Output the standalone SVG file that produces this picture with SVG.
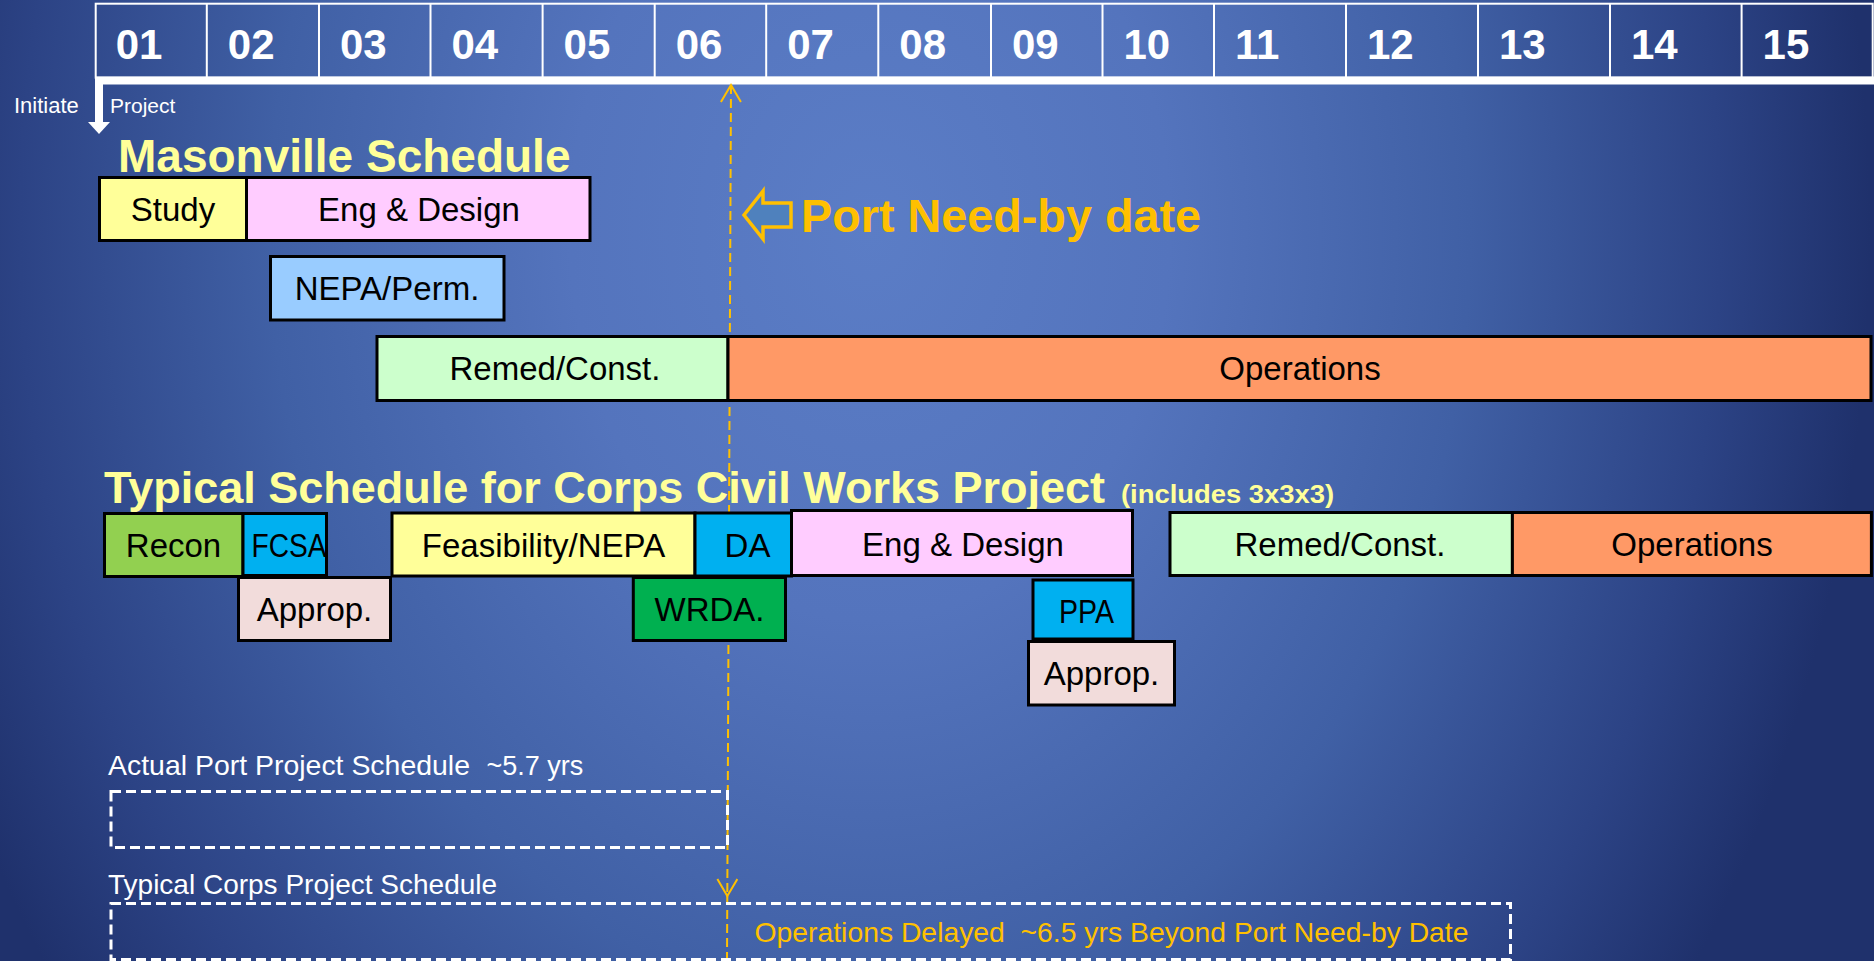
<svg xmlns="http://www.w3.org/2000/svg" width="1874" height="961" viewBox="0 0 1874 961">
<defs>
<radialGradient id="bg" gradientUnits="userSpaceOnUse" cx="870" cy="230" r="1000" gradientTransform="translate(870 230) scale(1 1.3) translate(-870 -230)">
<stop offset="0" stop-color="#5B7DC6"/>
<stop offset="0.3" stop-color="#5474BD"/>
<stop offset="0.6" stop-color="#4060A5"/>
<stop offset="0.85" stop-color="#2C4385"/>
<stop offset="1" stop-color="#1F316C"/>
</radialGradient>
<marker id="chev" viewBox="0 0 22 22" refX="20" refY="11" markerWidth="22" markerHeight="22" markerUnits="userSpaceOnUse" orient="auto-start-reverse">
<path d="M3,1 L20,11 L3,21" fill="none" stroke="#FFC000" stroke-width="2"/>
</marker>
</defs>
<style>
text{font-family:"Liberation Sans",Arial,sans-serif}
.box{stroke:#000;stroke-width:3}
.lbl{font-size:33px;fill:#000;text-anchor:middle}
.hdr{font-weight:bold;font-size:42px;fill:#fff}
.cell{fill:none;stroke:#fff;stroke-width:2}
.title{font-weight:bold;fill:#FFFF99}
.note{font-size:28px;fill:#fff}
.dash{fill:none;stroke:#fff;stroke-width:3;stroke-dasharray:10 5}
.gold{fill:#FFC000}
</style>
<rect x="0" y="0" width="1874" height="961" fill="url(#bg)"/>

<g id="timeline-header">
<rect class="cell" x="95.7" y="3.7" width="1777" height="74"/>
<path class="cell" d="M206.8,4V77M319,4V77M430.5,4V77M542.6,4V77M654.7,4V77M766.2,4V77M878.3,4V77M991,4V77M1102.5,4V77M1214,4V77M1346,4V77M1478,4V77M1610,4V77M1741.6,4V77"/>
<text class="hdr" x="115.7" y="59">01</text>
<text class="hdr" x="227.8" y="59">02</text>
<text class="hdr" x="340" y="59">03</text>
<text class="hdr" x="451.5" y="59">04</text>
<text class="hdr" x="563.6" y="59">05</text>
<text class="hdr" x="675.7" y="59">06</text>
<text class="hdr" x="787.2" y="59">07</text>
<text class="hdr" x="899.3" y="59">08</text>
<text class="hdr" x="1012" y="59">09</text>
<text class="hdr" x="1123.5" y="59">10</text>
<text class="hdr" x="1235" y="59">11</text>
<text class="hdr" x="1367" y="59">12</text>
<text class="hdr" x="1499" y="59">13</text>
<text class="hdr" x="1631" y="59">14</text>
<text class="hdr" x="1762.6" y="59">15</text>
</g>

<g id="initiate-arrow">
<path d="M1874,80.5H99V123" fill="none" stroke="#fff" stroke-width="8"/>
<polygon points="88,122 110,122 99,134" fill="#fff"/>
<text x="14" y="112.7" font-size="22" fill="#fff">Initiate</text>
<text x="110" y="112.7" font-size="21" fill="#fff">Project</text>
</g>

<g id="titles">
<text class="title" x="118" y="171.5" font-size="46">Masonville Schedule</text>
<text class="title" x="104" y="503" font-size="45">Typical Schedule for Corps Civil Works Project</text>
<text class="title" x="1121" y="503" font-size="26.5" textLength="213" lengthAdjust="spacingAndGlyphs">(includes 3x3x3)</text>
</g>

<g id="port-need-by">
<polygon points="744,215 763,191 763,203 791,203 791,227 763,227 763,239" fill="#4F81BD" stroke="#FFC000" stroke-width="3.5" stroke-linejoin="miter"/>
<text class="gold" x="801" y="231.5" font-size="46" font-weight="bold" textLength="400" lengthAdjust="spacingAndGlyphs">Port Need-by date</text>
</g>

<g id="connectors">
<line x1="731" y1="85" x2="727.3" y2="896" stroke="#FFC000" stroke-width="2" stroke-dasharray="9 5" marker-start="url(#chev)" marker-end="url(#chev)"/>
<line x1="727.3" y1="896" x2="727" y2="961" stroke="#FFC000" stroke-width="2" stroke-dasharray="9 5"/>
</g>

<g id="m-study"><rect class="box" x="99.5" y="177.5" width="147" height="63" fill="#FFFF99"/><text class="lbl" x="173" y="221" font-size="32">Study</text></g>
<g id="m-eng-design"><rect class="box" x="246.5" y="177.5" width="343.5" height="63" fill="#FFCCFF"/><text class="lbl" x="419" y="221" font-size="32">Eng &amp; Design</text></g>
<g id="m-nepa"><rect class="box" x="270.5" y="256.5" width="233.5" height="63.5" fill="#99CCFF"/><text class="lbl" x="387" y="300" font-size="32">NEPA/Perm.</text></g>
<g id="m-remed"><rect class="box" x="377" y="336.5" width="351" height="64" fill="#CCFFCC"/><text class="lbl" x="555" y="380">Remed/Const.</text></g>
<g id="m-operations"><rect class="box" x="728" y="336.5" width="1143" height="64" fill="#FF9966"/><text class="lbl" x="1300" y="380" font-size="34">Operations</text></g>

<g id="c-recon"><rect class="box" x="104.5" y="513.5" width="138.5" height="63" fill="#92D050"/><text class="lbl" x="173.5" y="557" font-size="32">Recon</text></g>
<g id="c-fcsa"><rect class="box" x="243" y="513.5" width="83.5" height="62" fill="#00B0F0"/><text class="lbl" x="289" y="557" textLength="75" lengthAdjust="spacingAndGlyphs">FCSA</text></g>
<g id="c-approp1"><rect class="box" x="238.5" y="577.5" width="152" height="63" fill="#F2DCDB"/><text class="lbl" x="314.5" y="621" font-size="34">Approp.</text></g>
<g id="c-feasibility"><rect class="box" x="392" y="513" width="303" height="63" fill="#FFFF99"/><text class="lbl" x="543.5" y="557">Feasibility/NEPA</text></g>
<g id="c-da"><rect class="box" x="695" y="513" width="96.5" height="63" fill="#00B0F0"/><text class="lbl" x="747.5" y="557" font-size="31">DA</text></g>
<g id="c-wrda"><rect class="box" x="633.3" y="577.5" width="152.2" height="63" fill="#00B050"/><text class="lbl" x="709.5" y="621" font-size="31.5">WRDA.</text></g>
<g id="c-eng-design"><rect class="box" x="791.5" y="510.5" width="341" height="65" fill="#FFCCFF"/><text class="lbl" x="963" y="556" font-size="32">Eng &amp; Design</text></g>
<g id="c-ppa"><rect class="box" x="1033" y="580" width="100" height="59" fill="#00B0F0"/><text class="lbl" x="1086.5" y="623" textLength="55" lengthAdjust="spacingAndGlyphs">PPA</text></g>
<g id="c-approp2"><rect class="box" x="1028.5" y="641.5" width="146" height="63.5" fill="#F2DCDB"/><text class="lbl" x="1101.5" y="685" font-size="34">Approp.</text></g>
<g id="c-remed"><rect class="box" x="1170" y="512.5" width="342.4" height="63" fill="#CCFFCC"/><text class="lbl" x="1340" y="556">Remed/Const.</text></g>
<g id="c-operations"><rect class="box" x="1512.4" y="512.5" width="359" height="63" fill="#FF9966"/><text class="lbl" x="1692" y="556" font-size="34">Operations</text></g>

<g id="actual-port-schedule">
<text class="note" x="108" y="775"><tspan textLength="362" lengthAdjust="spacingAndGlyphs">Actual Port Project Schedule</tspan><tspan x="486.5" font-size="27">~5.7 yrs</tspan></text>
<rect class="dash" x="111" y="791.5" width="616.5" height="56"/>
</g>
<g id="typical-corps-schedule">
<text class="note" x="108" y="894">Typical Corps Project Schedule</text>
<rect class="dash" x="111" y="903.5" width="1399.5" height="56"/>
<text class="gold" x="754.5" y="941.5" font-size="28" xml:space="preserve" textLength="714" lengthAdjust="spacingAndGlyphs">Operations Delayed  ~6.5 yrs Beyond Port Need-by Date</text>
</g>
</svg>
